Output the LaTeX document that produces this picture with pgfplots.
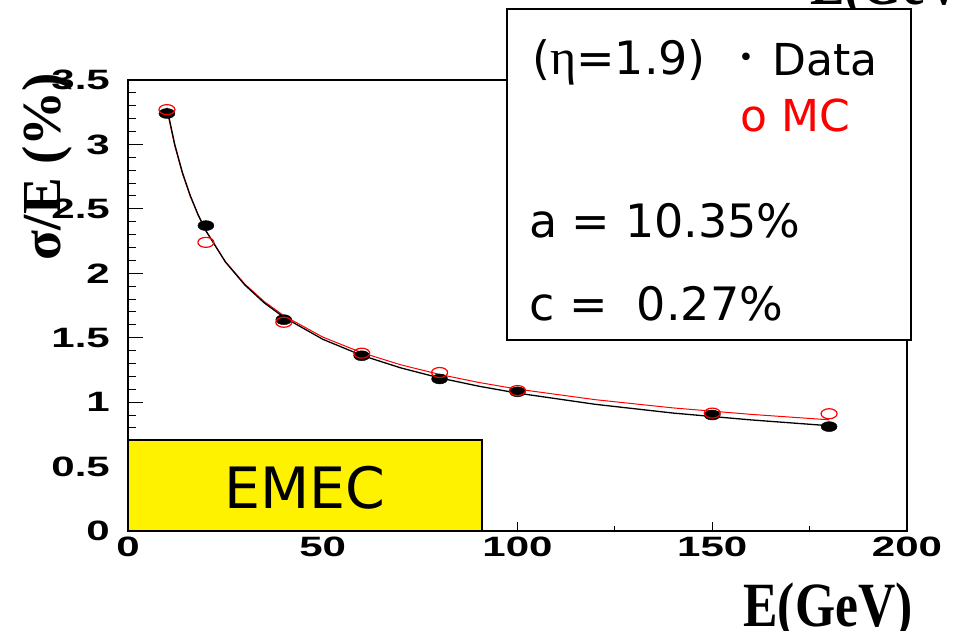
\documentclass[border=0pt]{standalone}
\usepackage{pgfplots}
\pgfplotsset{compat=1.18}
\usepackage{graphicx}
\usepackage{fontspec}
\setmainfont{DejaVu Sans}
\newfontfamily\ticksans{Liberation Sans}
\newfontfamily\labelserif{Liberation Serif}
\newfontfamily\boxsans{DejaVu Sans}

% resolution sigma/E for data (black) and MC (red)
\pgfplotstableread{
E   res
10  3.24
20  2.37
40  1.64
60  1.36
80  1.18
100 1.08
150 0.90
180 0.81
}\datatab
\pgfplotstableread{
E   res
10  3.27
20  2.24
40  1.62
60  1.38
80  1.23
100 1.09
150 0.915
180 0.91
}\mctab
% fitted curves, sampled
\pgfplotstableread{
E   res
10  3.284
12  3.000
14  2.779
16  2.602
18  2.454
20  2.330
25  2.088
30  1.909
35  1.770
40  1.659
50  1.488
60  1.363
70  1.266
80  1.188
90  1.124
100 1.070
120 0.983
140 0.915
160 0.862
180 0.817
}\datafit
\pgfplotstableread{
E   res
10  3.270
12  2.989
14  2.771
16  2.596
18  2.452
20  2.329
25  2.091
30  1.916
35  1.780
40  1.671
50  1.505
60  1.384
70  1.290
80  1.215
90  1.153
100 1.101
120 1.019
140 0.955
160 0.905
180 0.863
}\mcfit

\newcommand\ticktext[1]{\scalebox{1.5}[1]{\ticksans\bfseries\fontsize{28}{30}\selectfont #1}}
\newcommand\titletext[1]{\scalebox{0.82}[1]{\labelserif\bfseries\fontsize{63}{68}\selectfont #1}}

\begin{document}
\begin{tikzpicture}[x=1pt,y=1pt]
\useasboundingbox (0,0) rectangle (960,631);
\begin{axis}[
  at={(128pt,100pt)}, anchor=south west,
  scale only axis, width=779pt, height=451pt,
  xmin=0, xmax=200, ymin=0, ymax=3.5,
  xtick={0,50,100,150,200},
  ytick={0,0.5,1,1.5,2,2.5,3,3.5},
  minor x tick num=1, minor y tick num=4,
  tick align=inside, tick pos=left,
  major tick length=15pt, minor tick length=8pt,
  xtick style={/pgfplots/major tick length=9pt,/pgfplots/minor tick length=5pt},
  tick style={black, line width=1pt},
  axis line style={line width=1.6pt},
  xticklabel={\ticktext{\pgfmathprintnumber[assume math mode=true]{\tick}}},
  yticklabel={\ticktext{\pgfmathprintnumber[assume math mode=true]{\tick}}},
  xticklabel style={anchor=north, inner sep=0pt, yshift=-6pt},
  yticklabel style={anchor=east, inner sep=0pt, xshift=-18pt},
]
\addplot[red, line width=1pt, no marks] table[x=E,y=res] {\mcfit};
\addplot[black, line width=1.3pt, no marks] table[x=E,y=res] {\datafit};
\addplot[only marks, mark=*, mark size=5pt, mark options={xscale=1.6, fill=black, draw=black}] table[x=E,y=res] {\datatab};
\addplot[only marks, mark=o, mark size=5pt, mark options={xscale=1.6, draw=red, line width=1.2pt}] table[x=E,y=res] {\mctab};
\end{axis}

% axis titles
\node[rotate=90, anchor=base, inner sep=0pt] at (60,464.5)
  {\labelserif\bfseries\fontsize{55}{60}\selectfont σ/E (\%)};
\node[anchor=base east, inner sep=0pt] at (913,4) {\titletext{E(GeV)}};
\node[anchor=base west, inner sep=0pt] at (810,626) {\titletext{E(GeV)}};

% fit results box
\draw[line width=1.8pt, fill=white] (507,291) rectangle (911,622);
\node[anchor=base west, inner sep=0pt] at (532,556)
  {\boxsans\fontsize{46}{50}\selectfont({\labelserif\fontsize{50}{54}\selectfont η}=1.9)};
\node[inner sep=0pt] at (746,571) {\boxsans\fontsize{26}{30}\selectfont •};
\node[anchor=base west, inner sep=0pt] at (772,555)
  {\boxsans\fontsize{44}{48}\selectfont Data};
\node[anchor=base west, inner sep=0pt, text=red] at (740,499)
  {\boxsans\fontsize{44}{48}\selectfont o MC};
\node[anchor=base west, inner sep=0pt] at (529,393)
  {\boxsans\fontsize{46}{50}\selectfont a = 10.35\%};
\node[anchor=base west, inner sep=0pt] at (529,310)
  {\boxsans\fontsize{46}{50}\selectfont c =\ \ 0.27\%};

% detector label
\draw[line width=1.8pt, fill=yellow] (128,100) rectangle (482,191);
\node[anchor=base, inner sep=0pt] at (305,122)
  {\boxsans\fontsize{57}{62}\selectfont EMEC};
\end{tikzpicture}
\end{document}
